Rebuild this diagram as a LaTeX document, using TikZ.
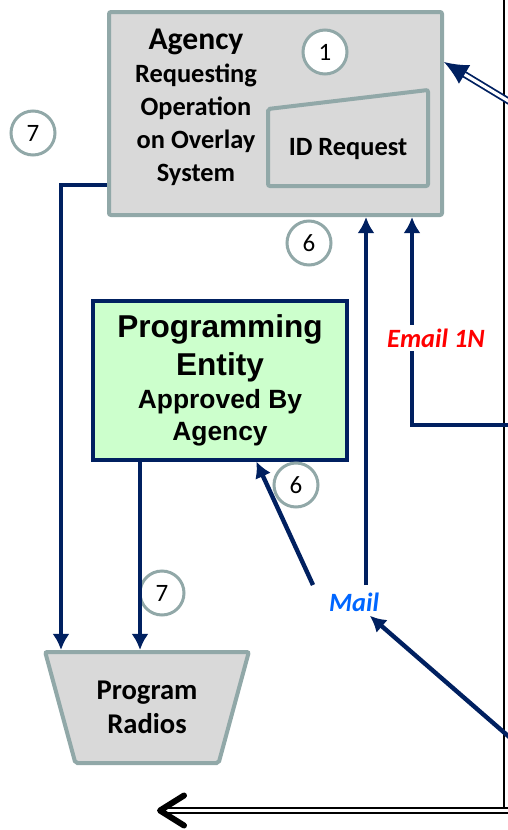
\documentclass[tikz,border=0pt]{standalone}
\usepackage{fontspec}
\setmainfont{Carlito}
\newfontfamily\arialfont{Liberation Sans}
\usetikzlibrary{arrows.meta, shapes.geometric}
\definecolor{navy}{RGB}{0,32,96}
\definecolor{slate}{RGB}{145,168,168}
\definecolor{panel}{RGB}{217,217,217}
\definecolor{mint}{RGB}{204,255,204}
\definecolor{mailblue}{RGB}{0,102,255}

\begin{document}
\begin{tikzpicture}[x=0.5pt, y=-0.5pt, >={Latex[length=8pt,width=8.5pt]},
  graybox/.style={draw=slate, fill=panel, line width=2pt, rounded corners=1pt},
  numcircle/.style={draw=slate, fill=white, circle, line width=1.5pt, minimum size=22pt, inner sep=0pt, font=\normalfont\fontsize{12.5}{14}\selectfont},
  flow/.style={draw=navy, line width=2.2pt, ->},
  tag/.style={font=\fontsize{13.2}{16}\selectfont\bfseries\itshape, inner sep=2pt}]
  \useasboundingbox (0,0) rectangle (508,830);
  \clip (0,0) rectangle (508,830);

  \node (agency) at (275.5,113.5) [graybox, minimum width=166.5pt, minimum height=101.5pt] {};
  \node (agencytext) at (196,107) [align=center, font=\fontsize{13.2}{16.5}\selectfont\bfseries] {{\fontsize{15.8}{17}\selectfont Agency}\\ Requesting\\ Operation\\ on Overlay\\ System};
  \draw[graybox] (268,109) -- (428,90) -- (428,186) -- (268,186) -- cycle; % request form
  \node (idreq) at (348,149) [font=\fontsize{13.2}{16}\selectfont\bfseries] {ID Request};

  \node (entity) at (220,380) [draw=navy, fill=mint, line width=2pt, minimum width=127pt, minimum height=79.5pt, align=center, font=\arialfont\bfseries\fontsize{15.8}{19}\selectfont] {Programming\\ Entity\\[-2.5pt] \fontsize{13.2}{16}\selectfont Approved By\\[-3pt] \fontsize{13.2}{16}\selectfont Agency};

  \node (radios) at (147,707.5) [graybox, trapezium, shape border rotate=180, trapezium left angle=70, trapezium right angle=70, trapezium stretches=true, minimum width=102pt, minimum height=55.5pt, align=center, font=\fontsize{14.3}{17}\selectfont\bfseries] {Program\\ Radios};

  \node (one) at (325,52) [numcircle] {1};
  \node (sevenl) at (33,133) [numcircle] {7};
  \node (sixa) at (309,243) [numcircle] {6};
  \node (sixb) at (296,485) [numcircle] {6};
  \node (sevenr) at (162,593) [numcircle] {7};

  \node (mail) at (354,602) [tag, text=mailblue] {Mail};

  \coordinate (bend7) at (61,185);
  \coordinate (drop7) at (140,0);
  \coordinate (edgetop) at (504,-5);
  \coordinate (edgebot) at (504,808);
  \coordinate (outbot) at (520,810.5);
  \coordinate (backtip) at (157,810.5);
  \coordinate (inagency) at (530,114);
  \coordinate (inemail) at (530,425);
  \coordinate (bendemail) at (412,425);
  \coordinate (inmail) at (530,755);
  \coordinate (upmail) at (366,585);
  \coordinate (frommail) at (313,585);

  \draw[flow] (agency.west |- bend7) -- (bend7) -- (bend7 |- radios.north);
  \draw[flow] (entity.south -| drop7) -- (drop7 |- radios.north);

  \draw[black, line width=1pt] (edgetop) -- (edgebot);
  \draw[black, line width=0.9pt, double, double distance=1.6pt, -{Straight Barb[length=12pt,width=15pt,line width=3pt,round]}] (outbot) -- (backtip);
  \draw[navy, line width=0.9pt, double, double distance=1.6pt, -{Latex[length=12pt,width=11pt]}] (inagency) -- (agency.17);

  \draw[flow] (inemail) -- (bendemail) -- (bendemail |- agency.south);
  \draw[flow] (inmail) -- (mail);
  \draw[flow] (upmail) -- (upmail |- agency.south);
  \draw[flow] (frommail) -- (entity.-66);

  \node (email) at (436,338) [tag, text=red, fill=white] {Email 1N}; % covers the line
\end{tikzpicture}
\end{document}
